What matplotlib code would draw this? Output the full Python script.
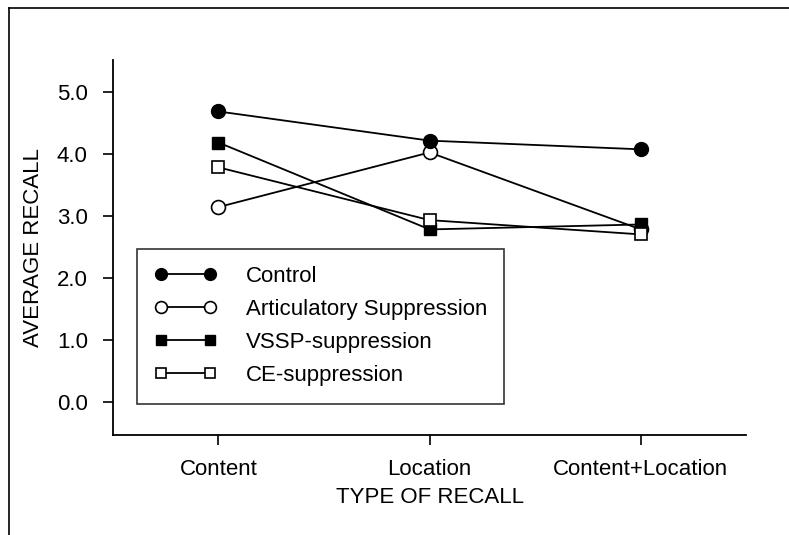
import matplotlib
matplotlib.use("Agg")
import matplotlib.pyplot as plt
from matplotlib.lines import Line2D

categories = ["Content", "Location", "Content+Location"]
control = [4.68, 4.21, 4.07]
articulatory = [3.14, 4.02, 2.78]
vssp = [4.18, 2.78, 2.86]
ce = [3.78, 2.93, 2.70]
yticks = [0.0, 1.0, 2.0, 3.0, 4.0, 5.0]

plt.rcParams['font.family'] = ['Liberation Sans', 'DejaVu Sans']
FS = 16

fig = plt.figure(figsize=(7.89, 5.35), dpi=100)
ax = fig.add_axes([0.143, 0.187, 0.803, 0.701])

x = list(range(len(categories)))
lw = 1.3
ax.plot(x, articulatory, '-o', color='black', lw=lw, ms=10, mfc='white', mec='black', mew=1.2,
        label='Articulatory Suppression', zorder=2)
ax.plot(x, control, '-o', color='black', lw=lw, ms=10, mfc='black', mec='black',
        label='Control', zorder=4)
ax.plot(x, vssp, '-s', color='black', lw=lw, ms=8.5, mfc='black', mec='black',
        label='VSSP-suppression', zorder=3)
ax.plot(x, ce, '-s', color='black', lw=lw, ms=8.5, mfc='white', mec='black', mew=1.2,
        label='CE-suppression', zorder=4)

ax.set_xlim(-0.5, 2.5)
ax.set_ylim(-0.53, 5.51)
ax.set_xticks(x)
ax.set_xticklabels(categories)
ax.set_yticks(yticks)
ax.set_yticklabels([f"{v:.1f}" for v in yticks])
ax.tick_params(axis='both', direction='out', length=7, width=1.2, labelsize=FS)
ax.tick_params(axis='y', pad=11)
ax.tick_params(axis='x', pad=10)
for s in ['top', 'right']:
    ax.spines[s].set_visible(False)
for s in ['left', 'bottom']:
    ax.spines[s].set_linewidth(1.3)
ax.set_xlabel("TYPE OF RECALL", fontsize=FS, labelpad=5)
ax.set_ylabel("AVERAGE RECALL", fontsize=FS, labelpad=9)

handles, labels = ax.get_legend_handles_labels()
order = [1, 0, 2, 3]
leg = ax.legend([handles[i] for i in order], [labels[i] for i in order],
                loc='lower left', bbox_to_anchor=(0.038, 0.083), borderaxespad=0,
                numpoints=2, handlelength=2.8, handletextpad=1.3, labelspacing=0.54,
                fontsize=FS, frameon=True, fancybox=False, edgecolor='black',
                borderpad=0.79, markerscale=0.85)
leg.get_frame().set_linewidth(1.2)

fig.add_artist(Line2D([0.011, 1.0], [0.985, 0.985], color='black', lw=1.2, transform=fig.transFigure))
fig.add_artist(Line2D([0.011, 0.011], [0.0, 0.985], color='black', lw=1.2, transform=fig.transFigure))

fig.savefig("out.png", dpi=100)
